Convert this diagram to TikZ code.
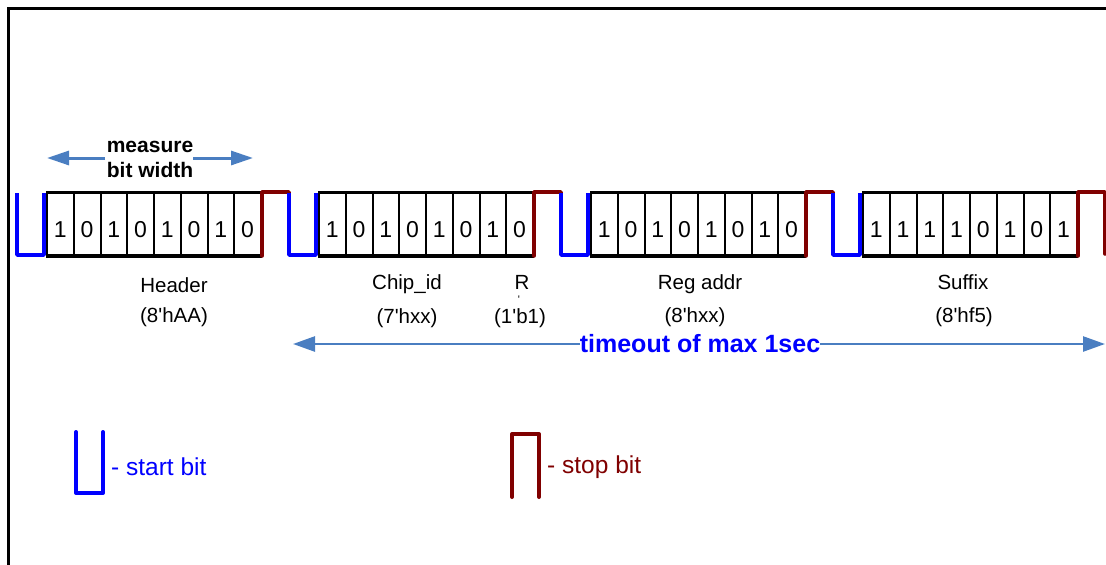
\documentclass[tikz,border=0pt]{standalone}
\usepackage{fontspec}
\setmainfont{Liberation Sans}[Ligatures=TeXOff]
\usetikzlibrary{arrows.meta}
\definecolor{startblue}{RGB}{0,0,255}
\definecolor{stopred}{RGB}{128,0,0}
\definecolor{arrblue}{RGB}{74,126,193}

\begin{document}
\begin{tikzpicture}[x=1pt,y=-1pt,
  >={Triangle[length=22pt,width=14pt]},
  startbit/.style={startblue,line width=3.5pt,line join=round},
  stopbit/.style={stopred,line width=3.5pt,line cap=round,line join=round},
  cell/.style={draw,line width=2pt,minimum width=26.75pt,minimum height=62pt,
    inner sep=0pt,text height=26.5pt,text depth=0pt,font=\fontsize{23}{26}\selectfont},
  lbl/.style={inner sep=0pt,anchor=base,font=\fontsize{20.5}{24}\selectfont},
  bigarrow/.style={->,arrblue,line width=2.5pt}]
\useasboundingbox (0,0) rectangle (1106,565);

% frame
\draw[line width=3pt] (8,565) -- (8,8) -- (1106,8);

% start bit, 8 bits, stop bit
\foreach \s/\bits in {0/{1,0,1,0,1,0,1,0},1/{1,0,1,0,1,0,1,0},2/{1,0,1,0,1,0,1,0},3/{1,1,1,1,0,1,0,1}}{
  \pgfmathsetmacro{\xs}{17+272*\s}
  \foreach \b [count=\i] in \bits
    \node[cell] (c\s_\i) at ({\xs+30+26.75*(\i-0.5)},224) {\b};
  \draw[line width=3pt] (c\s_1.north west) -- (c\s_8.north east)
                        (c\s_1.south west) -- (c\s_8.south east);
  \draw[startbit] (\xs,193) -- (\xs,255) -- ++(27,0) -- ++(0,-62);
  \draw[stopbit] (c\s_8.south east) -- (c\s_8.north east) -- ++(27,0) -- ++(0,62);
}

% field names
\node[lbl] (hdr) at (174,292) {Header};
\node[lbl] (hdr_v) at (174,322) {(8'hAA)};
\node[lbl] (chip) at (407,289) {Chip\_id};
\node[lbl] (chip_v) at (407,323) {(7'hxx)};
\node[lbl] (rbit) at (522,289) {R};
\node[lbl,font=\fontsize{11}{12}\selectfont] (rbit_t) at (519,303) {'};
\node[lbl] (rbit_v) at (520,323) {(1'b1)};
\node[lbl] (reg) at (700,289) {Reg addr};
\node[lbl] (reg_v) at (695,322) {(8'hxx)};
\node[lbl] (suf) at (963,289) {Suffix};
\node[lbl] (suf_v) at (964,322) {(8'hf5)};

% measure bit width
\node[lbl,font=\bfseries\fontsize{21}{25}\selectfont] (meas1) at (150,152) {measure};
\node[lbl,font=\bfseries\fontsize{21}{25}\selectfont] (meas2) at (150,177) {bit width};
\coordinate (mw_l) at (105,158);
\coordinate (mw_r) at (193,158);
\coordinate (mw_lt) at (47,158);
\coordinate (mw_rt) at (253,158);
\draw[bigarrow,line width=3pt] (mw_l) -- (mw_lt);
\draw[bigarrow,line width=3pt] (mw_r) -- (mw_rt);

% timeout
\node[inner sep=0pt,text=startblue,font=\bfseries\fontsize{25}{28}\selectfont] (tmo) at (700,344) {timeout of max 1sec};
\coordinate (to_l) at (293,344);
\coordinate (to_r) at (1105,344);
\draw[bigarrow,>={Triangle[length=22pt,width=15pt]}] (tmo.west) -- (to_l);
\draw[bigarrow,>={Triangle[length=22pt,width=15pt]}] (tmo.east) -- (to_r);

% legend
\draw[startbit,line width=4pt,line cap=round] (76,432) -- (76,493) -- (103,493) -- (103,432);
\node[lbl,anchor=base west,text=startblue,font=\fontsize{24.5}{28}\selectfont] (lg_start) at (111,475) {- start bit};
\draw[stopbit,line width=4pt] (512,497) -- (512,434) -- (539,434) -- (539,497);
\node[lbl,anchor=base west,text=stopred,font=\fontsize{24.5}{28}\selectfont] (lg_stop) at (547,473) {- stop bit};
\end{tikzpicture}
\end{document}
